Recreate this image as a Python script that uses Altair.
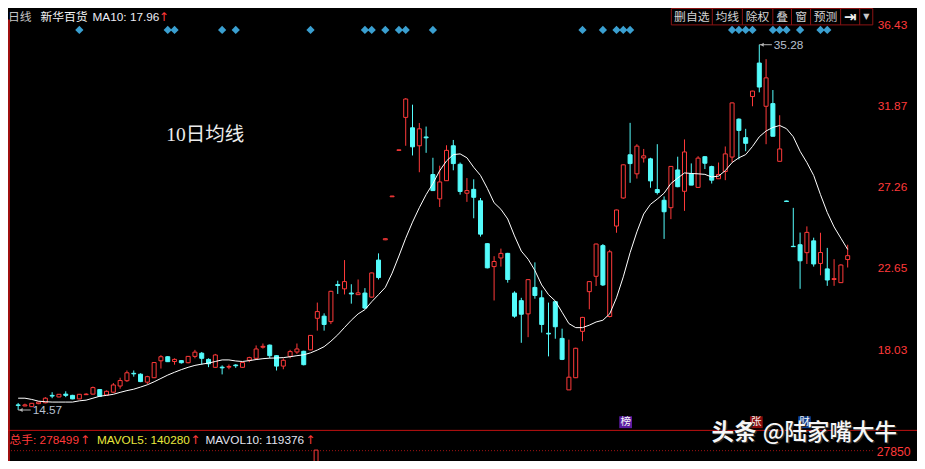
import altair as alt
import pandas as pd

# ---------------- data ----------------
opens = [14.86, 14.80, 14.76, 14.93, 14.98, 15.40, 15.31, 15.47, 15.40, 15.20,
         15.44, 15.47, 15.73, 15.42, 15.58, 15.93, 16.23, 16.65, 16.60, 16.15,
         16.40, 17.36, 17.59, 17.32, 17.37, 17.25, 17.61, 17.79, 17.44, 16.99,
         17.00, 17.00, 17.12, 16.99, 17.39, 17.50, 18.13, 18.25, 17.65, 17.06,
         17.61, 17.86, 17.90, 17.98, 19.77, 19.89, 19.58, 21.68, 21.44, 21.20,
         21.11, 21.20, 20.97, 23.07, 24.22, 26.66, 29.29, 31.16, 30.57, 29.55,
         30.05, 27.92, 26.54, 27.57, 29.55, 28.50, 26.86, 27.08, 26.43, 24.00,
         22.70, 23.19, 23.45, 21.20, 20.77, 20.02, 21.52, 20.93, 18.92, 20.71,
         18.63, 15.71, 16.40, 19.03, 21.28, 22.15, 23.89, 19.87, 25.00, 26.59,
         29.04, 27.96, 28.86, 28.81, 27.07, 26.46, 26.04, 28.18, 26.97, 27.96,
         27.19, 28.93, 28.37, 27.68, 28.09, 28.91, 31.06, 30.01, 32.34, 34.24,
         31.79, 31.94, 28.67, 26.42, 23.85, 23.94, 23.49, 24.16, 22.88, 22.57,
         21.97, 21.79, 23.10]
highs = [14.97, 14.93, 14.97, 15.05, 15.30, 15.58, 15.48, 15.63, 15.43, 15.48,
         15.52, 15.90, 15.75, 15.68, 16.10, 16.40, 16.81, 16.81, 16.65, 16.51,
         17.28, 17.68, 17.62, 17.50, 17.40, 17.63, 17.98, 17.86, 17.50, 17.75,
         17.10, 17.15, 17.17, 17.28, 17.59, 18.23, 18.34, 18.28, 17.68, 17.50,
         17.98, 18.34, 17.93, 18.82, 20.66, 20.05, 21.33, 21.90, 23.07, 21.70,
         21.97, 21.48, 22.36, 23.45, 24.30, 26.71, 29.33, 32.25, 31.88, 30.84,
         30.64, 28.87, 28.42, 29.58, 29.88, 28.60, 27.72, 27.65, 26.59, 24.03,
         23.29, 23.72, 23.48, 21.30, 20.93, 21.98, 22.94, 21.35, 20.66, 20.76,
         19.18, 18.56, 18.10, 19.85, 21.88, 24.00, 23.98, 23.65, 25.93, 28.49,
         30.85, 29.64, 29.37, 28.87, 29.64, 26.68, 28.40, 28.93, 29.91, 28.55,
         28.96, 28.96, 28.42, 28.60, 29.51, 32.00, 31.10, 30.51, 32.67, 35.28,
         34.46, 32.71, 31.28, 26.44, 26.03, 24.63, 24.98, 24.34, 24.62, 23.76,
         23.12, 22.83, 23.94]
lows = [14.57, 14.78, 14.74, 14.90, 14.95, 15.24, 15.29, 15.30, 15.18, 15.18,
        15.42, 15.45, 15.33, 15.40, 15.55, 15.78, 16.16, 16.46, 16.15, 16.04,
        16.38, 16.92, 17.29, 17.14, 17.20, 17.22, 17.50, 17.14, 17.00, 16.96,
        16.59, 16.88, 16.96, 16.96, 17.28, 17.47, 18.05, 17.50, 16.81, 16.88,
        17.50, 17.75, 17.10, 17.96, 19.07, 19.07, 19.44, 21.15, 21.12, 20.60,
        21.11, 20.30, 20.95, 21.97, 24.20, 26.65, 29.28, 29.55, 29.00, 28.05,
        29.15, 27.01, 26.08, 27.57, 28.16, 26.78, 26.37, 25.44, 24.40, 22.60,
        20.78, 22.70, 21.79, 19.80, 18.38, 18.70, 20.88, 18.96, 17.61, 18.61,
        17.40, 15.71, 16.38, 18.47, 20.28, 21.60, 21.60, 19.82, 24.62, 26.55,
        27.45, 27.69, 28.60, 27.17, 26.79, 24.27, 25.39, 27.20, 25.86, 27.32,
        27.17, 28.23, 27.41, 27.68, 27.60, 28.60, 28.78, 29.24, 31.79, 32.58,
        29.64, 30.09, 28.67, 26.37, 23.82, 21.44, 22.85, 22.70, 22.21, 21.61,
        21.61, 21.77, 22.65]
closes = [14.83, 14.86, 14.95, 15.02, 15.24, 15.36, 15.46, 15.40, 15.20, 15.46,
          15.47, 15.84, 15.35, 15.63, 15.99, 16.24, 16.68, 16.62, 16.18, 16.46,
          17.26, 17.59, 17.31, 17.44, 17.25, 17.61, 17.85, 17.50, 17.19, 17.69,
          16.96, 17.04, 17.08, 17.26, 17.54, 18.03, 18.18, 17.65, 17.06, 17.39,
          17.88, 18.03, 17.14, 18.80, 20.15, 19.42, 21.30, 21.63, 21.85, 21.15,
          21.21, 20.35, 22.34, 22.08, 24.28, 26.70, 29.32, 32.20, 29.49, 30.51,
          30.00, 27.01, 27.50, 29.29, 28.54, 26.96, 27.01, 26.63, 24.54, 22.63,
          22.99, 23.45, 21.97, 19.89, 20.00, 21.96, 21.06, 19.42, 18.88, 19.29,
          17.44, 16.43, 18.07, 19.82, 21.85, 23.98, 21.66, 23.54, 25.91, 28.47,
          28.54, 29.53, 28.98, 27.56, 26.90, 25.81, 28.38, 27.23, 29.20, 27.32,
          28.85, 28.56, 27.60, 27.92, 29.09, 31.98, 30.42, 29.69, 32.65, 32.88,
          33.40, 30.09, 29.37, 26.39, 23.83, 23.03, 24.64, 22.85, 23.50, 21.94,
          22.02, 22.79, 23.32]
ma10 = [15.24, 15.24, 15.17, 15.07, 15.04, 15.02, 15.02, 15.02, 15.02, 15.09,
        15.13, 15.24, 15.35, 15.40, 15.46, 15.57, 15.67, 15.75, 15.87, 16.00,
        16.17, 16.36, 16.55, 16.71, 16.86, 16.99, 17.10, 17.17, 17.23, 17.32,
        17.41, 17.41, 17.35, 17.32, 17.37, 17.43, 17.48, 17.51, 17.52, 17.54,
        17.59, 17.65, 17.70, 17.81, 17.97, 18.16, 18.47, 18.83, 19.25, 19.66,
        20.02, 20.26, 20.71, 21.11, 21.52, 22.33, 23.30, 24.31, 25.22, 26.04,
        26.78, 27.41, 28.14, 28.69, 29.05, 29.09, 28.87, 28.33, 27.87, 27.14,
        26.32, 25.95, 25.40, 24.44, 23.58, 23.12, 22.48, 21.66, 21.11, 20.75,
        20.11, 19.47, 19.24, 19.24, 19.38, 19.56, 19.66, 20.02, 20.93, 22.12,
        23.49, 24.67, 25.68, 26.23, 26.53, 26.86, 27.41, 27.72, 28.01, 27.98,
        27.96, 27.93, 27.78, 27.83, 28.14, 28.60, 28.87, 29.05, 29.51, 30.06,
        30.39, 30.59, 30.70, 30.52, 30.06, 29.24, 28.60, 27.87, 26.78, 25.77,
        24.95, 24.31, 23.67]
signal_days = [9, 22, 23, 30, 32, 43, 51, 52, 54, 56, 57, 61, 83, 86, 88, 89, 90,
               105, 106, 107, 108, 111, 112, 113, 115, 118, 119]
price_ticks = [36.43, 31.87, 27.26, 22.65, 18.03]
extreme_days = [109, 0]
extreme_prices = [35.28, 14.57]
button_labels = ["删自选", "均线", "除权", "叠", "窗", "预测"]

# ---------------- styling ----------------
RED = "#ff3a3a"
CYAN = "#54fcfc"
DKRED = "#a01212"
BLUE = "#3a9fd0"
SANS = "Liberation Sans, 'Noto Sans CJK SC', sans-serif"
CJK = "'Noto Sans CJK SC', sans-serif"
SX = 909 / 925
SY = 453 / 469
PW, PH, PAD_R = 866, 453, 43
FS = 11.8


def X(v):
    return round(v * SX, 2)


def Y(v):
    return round(v * SY, 2)


xs = alt.Scale(domain=[-0.757, 125.136], nice=False, zero=False)
ys = alt.Scale(domain=[11.679, 37.361], nice=False, zero=False)

df = pd.DataFrame({"i": list(range(len(opens))), "o": opens, "h": highs,
                   "l": lows, "c": closes, "ma": ma10})
base = alt.Chart(df)
xi = alt.X("i:Q", scale=xs, axis=None)

wicks = base.mark_rule(strokeWidth=1).encode(
    x=xi,
    y=alt.Y("l:Q", scale=ys, axis=alt.Axis(
        orient="right", values=price_ticks, title=None, labels=False,
        ticks=False, domain=True, domainColor="#b01414", domainWidth=1,
        grid=True, gridColor=DKRED, gridDash=[1, 2], gridWidth=1)),
    y2="h:Q",
    color=alt.condition("datum.c >= datum.o", alt.value(RED), alt.value(CYAN)),
)
down = base.transform_filter("datum.c < datum.o").mark_bar(
    size=4, fill=CYAN, stroke=CYAN, strokeWidth=1).encode(
    x=xi, y=alt.Y("o:Q", scale=ys, axis=None), y2="c:Q")
up = base.transform_filter("datum.c >= datum.o").mark_bar(
    size=4, fill="black", stroke=RED, strokeWidth=1).encode(
    x=xi, y=alt.Y("o:Q", scale=ys, axis=None), y2="c:Q")
ma_line = base.mark_line(color="white", strokeWidth=1).encode(
    x=xi, y=alt.Y("ma:Q", scale=ys, axis=None))

# price tick labels on the right, placed through the price scale
tick_labels = alt.Chart(pd.DataFrame({"p": price_ticks})).mark_text(
    align="left", baseline="middle", color=RED, fontSize=FS,
    font="Liberation Sans", dy=1).encode(
    x=alt.value(X(885)), y=alt.Y("p:Q", scale=ys, axis=None),
    text=alt.Text("p:Q", format=".2f"))

diamonds = alt.Chart(pd.DataFrame({"i": signal_days})).mark_point(
    shape="diamond", filled=True, size=68, color=BLUE, opacity=1).encode(
    x=xi, y=alt.datum(36.12))

ext = pd.DataFrame({"i": extreme_days, "p": extreme_prices,
                    "t": [f"{v:.2f}" for v in extreme_prices]})
eb = alt.Chart(ext)
ey = alt.Y("p:Q", scale=ys, axis=None)
ext_line = eb.transform_calculate(i2="datum.i + 1.85").mark_rule(
    color="#b4b4b4", strokeWidth=1).encode(x=xi, x2="i2:Q", y=ey)
ext_head = eb.transform_calculate(ih="datum.i + 0.4").mark_point(
    shape="triangle-left", filled=True, size=16, color="#b4b4b4", opacity=1).encode(
    x=alt.X("ih:Q", scale=xs, axis=None), y=ey)
ext_text = eb.mark_text(align="left", baseline="middle", dx=14.5, fontSize=FS,
                        font="Liberation Sans", color="#b8c0d0").encode(
    x=xi, y=ey, text="t:N")

# ---------------- chrome helpers ----------------
ONE = pd.DataFrame({"k": [0]})


def text(s, x, y, color, size=FS, font=SANS, align="left", weight="normal"):
    return alt.Chart(ONE).mark_text(
        text=s, align=align, baseline="middle", color=color, fontSize=size,
        font=font, fontWeight=weight).encode(x=alt.value(X(x)), y=alt.value(Y(y)))


def hline(x1, x2, y, color, dash=None, width=1):
    kw = {"strokeDash": dash} if dash else {}
    return alt.Chart(ONE).mark_rule(color=color, strokeWidth=width, **kw).encode(
        x=alt.value(X(x1)), x2=alt.value(X(x2)), y=alt.value(Y(y)))


def vline(x, y1, y2, color, width=1):
    return alt.Chart(ONE).mark_rule(color=color, strokeWidth=width).encode(
        x=alt.value(X(x)), y=alt.value(Y(y1)), y2=alt.value(Y(y2)))


def box(x1, x2, y1, y2, fill, stroke=None):
    kw = {"stroke": stroke, "strokeWidth": 1} if stroke else {}
    return alt.Chart(ONE).mark_rect(fill=fill, **kw).encode(
        x=alt.value(X(x1)), x2=alt.value(X(x2)), y=alt.value(Y(y1)), y2=alt.value(Y(y2)))


ARW = dict(size=12, font="DejaVu Sans", align="center")
chrome = []
# header
chrome += [
    text("日线", 0, 9, "#c4c4c4", font=CJK),
    text("新华百货", 33, 9, "#f4f4f4", font=CJK),
    text("MA10: 17.96", 86, 9, "#ececf4", font="Liberation Sans"),
    text("↑", 158.5, 9, RED, **ARW),
]
# button bar
edges = [675, 716.7, 747.3, 778.3, 797.3, 816.7, 847.3, 866.7, 880]
chrome.append(box(675, 880, 0.5, 17.5, "black", "#8c1414"))
for e in edges[1:-1]:
    chrome.append(vline(e, 0.5, 17.5, "#8c1414"))
for k, lab in enumerate(button_labels):
    chrome.append(text(lab, (edges[k] + edges[k + 1]) / 2, 9, "#d4d4d4",
                       font=CJK, align="center"))
chrome.append(text("⇥", 857, 9, "#f0f0f0", size=15, font="DejaVu Sans",
                   align="center", weight="bold"))
chrome.append(text("▼", 873.5, 9, "#c8c8c8", size=8, font="DejaVu Sans",
                   align="center"))
# left border
chrome.append(vline(1, 12, 469, "#a01010", width=2))
# title annotation
chrome.append(text("10日均线", 161, 131, "#ececec", size=19.5,
                   font="Liberation Serif, 'Noto Sans CJK SC', serif"))
# volume panel header
chrome += [
    hline(0, 925, 437.3, "#c01010"),
    text("总手: 278499", 1.5, 447, RED),
    text("↑", 78.5, 447, RED, **ARW),
    text("MAVOL5: 140280", 90.5, 447, "#e8e83c", font="Liberation Sans"),
    text("↑", 190.5, 447, RED, **ARW),
    text("MAVOL10: 119376", 201, 447, "#e4e4f0", font="Liberation Sans"),
    text("↑", 307.5, 447, RED, **ARW),
    hline(0, 881, 458.3, DKRED, dash=[1, 2]),
    text("27850", 884, 459.5, RED, size=12.2, font="Liberation Sans"),
    box(311.5, 315.5, 457.7, 470, "black", RED),
]
# small event tags
for lab, x1, fill in [("榜", 622, "#5a1aa0"), ("张", 755, "#8a0c0c"), ("财", 804, "#0c3c8c")]:
    chrome.append(box(x1, x1 + 13, 422.7, 435, fill))
    chrome.append(text(lab, x1 + 6.5, 429, "#f4f4f4", size=10.5, font=CJK, align="center"))
# watermark
chrome += [
    text("头条", 717.5, 441.5, "#2a2a2a", size=22.5, font=CJK, weight="bold"),
    text("@陆家嘴大牛", 769.5, 441.5, "#2a2a2a", size=22.5, font=CJK, weight=500),
    text("头条", 716, 440, "#f6f6f6", size=22.5, font=CJK, weight="bold"),
    text("@陆家嘴大牛", 768, 440, "#f6f6f6", size=22.5, font=CJK, weight=500),
]

chart = alt.layer(
    wicks, down, up, ma_line, tick_labels, diamonds, ext_line, ext_head, ext_text,
    *chrome
).properties(
    width=PW, height=PH,
    autosize=alt.AutoSizeParams(type="none"),
    padding={"left": 0, "top": 0, "right": PAD_R, "bottom": 0},
).configure(background="black").configure_view(stroke=None)

chart.save("out.html", embed_options={"renderer": "svg", "actions": False})
